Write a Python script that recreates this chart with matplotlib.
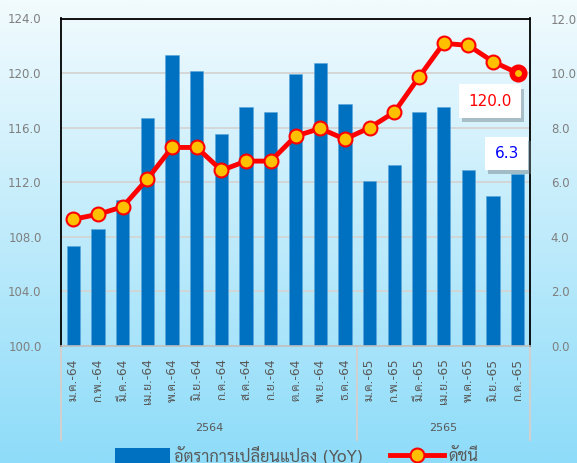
import numpy as np
import matplotlib
matplotlib.use("Agg")
import matplotlib.pyplot as plt
import matplotlib.patheffects as pe
from matplotlib.patches import Patch
from matplotlib.lines import Line2D

plt.rcParams['font.family'] = ['DejaVu Sans', 'Sarabun']

months = ['ม.ค.-64', 'ก.พ.-64', 'มี.ค.-64', 'เม.ย.-64', 'พ.ค.-64', 'มิ.ย.-64',
          'ก.ค.-64', 'ส.ค.-64', 'ก.ย.-64', 'ต.ค.-64', 'พ.ย.-64', 'ธ.ค.-64',
          'ม.ค.-65', 'ก.พ.-65', 'มี.ค.-65', 'เม.ย.-65', 'พ.ค.-65', 'มิ.ย.-65',
          'ก.ค.-65']
yoy = [3.67, 4.27, 5.36, 8.37, 10.66, 10.07, 7.78, 8.76, 8.56, 9.96, 10.38,
       8.87, 6.06, 6.65, 8.56, 8.76, 6.45, 5.48, 6.3]
index_vals = [109.29, 109.65, 110.2, 112.24, 114.55, 114.55, 112.87, 113.55,
              113.55, 115.38, 115.94, 115.16, 115.99, 117.13, 119.7, 122.18,
              122.03, 120.84, 120.0]
years = ['2564', '2565']
year_counts = [12, 7]
bar_label = 'อัตราการเปลี่ยนแปลง (YoY)'
line_label = 'ดัชนี'

x = np.arange(len(months))
gray_txt = '#7f7f7f'
dark_txt = '#595959'

fig = plt.figure(figsize=(5.77, 4.63), dpi=100)

# background gradient
bg = fig.add_axes([0, 0, 1, 1], zorder=-10)
top = np.array([242, 251, 254]) / 255
bot = np.array([142, 220, 249]) / 255
t = np.linspace(0, 1, 256)[:, None]
grad = (top * (1 - t) + bot * t)[:, None, :]
bg.imshow(grad, aspect='auto', extent=[0, 1, 0, 1])
bg.axis('off')

rect = [61 / 577, 1 - 346 / 463, 469 / 577, (346 - 18.5) / 463]
axl = fig.add_axes(rect)
axb = axl.twinx()
axl.set_zorder(axb.get_zorder() + 1)
axl.patch.set_visible(False)

# bars on right axis
axb.bar(x, yoy, width=0.54, color='#0070c0', edgecolor='#5aa6dc', linewidth=0.4)
axb.set_ylim(0, 12)
axb.set_yticks(np.arange(0, 13, 2))
axb.set_yticklabels([f'{v:.1f}' for v in np.arange(0, 13, 2)])
axb.yaxis.grid(True, color='#d4d4d4', linewidth=1.3)
axb.set_axisbelow(True)
axb.tick_params(axis='y', length=0, pad=15, labelsize=8.5, labelcolor=gray_txt)
for s in axb.spines.values():
    s.set_visible(False)

# index line on left axis
axl.plot(x, index_vals, color='red', lw=3.5, marker='o', ms=10,
         mfc='#ffc000', mec='red', mew=1.5, zorder=3)
axl.plot(x[-1], index_vals[-1], marker='o', ms=9, mfc='#ffc000', mec='red',
         mew=4, zorder=4)
axl.set_ylim(100, 124)
axl.set_xlim(-0.5, len(months) - 0.5)
axl.set_yticks(np.arange(100, 125, 4))
axl.set_yticklabels([f'{v:.1f}' for v in np.arange(100, 125, 4)])
axl.tick_params(axis='y', length=0, pad=14, labelsize=8.5, labelcolor=gray_txt)
axl.set_xticks(x)
axl.set_xticklabels(months, rotation=90, va='top', ha='center')
axl.tick_params(axis='x', length=0, pad=9, labelsize=8.8, labelcolor=dark_txt)
for side in ['top', 'left', 'right']:
    axl.spines[side].set_color('black')
    axl.spines[side].set_linewidth(1.3)
axl.spines['bottom'].set_color('#bfbfbf')
axl.spines['bottom'].set_linewidth(1.2)

# year group separators and labels
bounds = [-0.5]
for c in year_counts:
    bounds.append(bounds[-1] + c)
for b in bounds:
    axl.plot([b, b], [0, -0.287], transform=axl.get_xaxis_transform(),
             color='#d0d0d0', lw=1.5, clip_on=False)
for i, yr in enumerate(years):
    axl.text((bounds[i] + bounds[i + 1]) / 2, -0.25, yr,
             transform=axl.get_xaxis_transform(), ha='center', va='center',
             fontsize=8, color=dark_txt)

# data labels in white boxes with a drop shadow
def boxed(txt, xy, coords, off, color):
    a = axl.annotate(txt, xy=xy, xycoords=coords, xytext=off,
                     textcoords='offset points', ha='center', va='center',
                     fontsize=11, color=color, zorder=6,
                     bbox=dict(boxstyle='square,pad=0.6', fc='white', ec='none'))
    a.get_bbox_patch().set_path_effects(
        [pe.SimplePatchShadow(offset=(2, -3), shadow_rgbFace='#6f7f88', alpha=0.45),
         pe.Normal()])

boxed(f'{index_vals[-1]:.1f}', (x[-1], index_vals[-1]), axl.transData,
      (-19.8, -20.2), 'red')
boxed(f'{yoy[-1]:.1f}', (x[-1], yoy[-1]), axb.transData, (-7.9, 14.9), '#0000ff')

handles = [Patch(fc='#0070c0'),
           Line2D([], [], color='red', lw=3.5, marker='o', ms=10,
                  mfc='#ffc000', mec='red', mew=1.5)]
fig.legend(handles, [bar_label, line_label], loc='center',
           bbox_to_anchor=(0.515, 0.017), ncol=2, frameon=False, fontsize=11.8,
           handlelength=3.3, handleheight=1.0, columnspacing=1.6,
           handletextpad=0.3, labelcolor=dark_txt)

fig.savefig('out.png', dpi=100)
